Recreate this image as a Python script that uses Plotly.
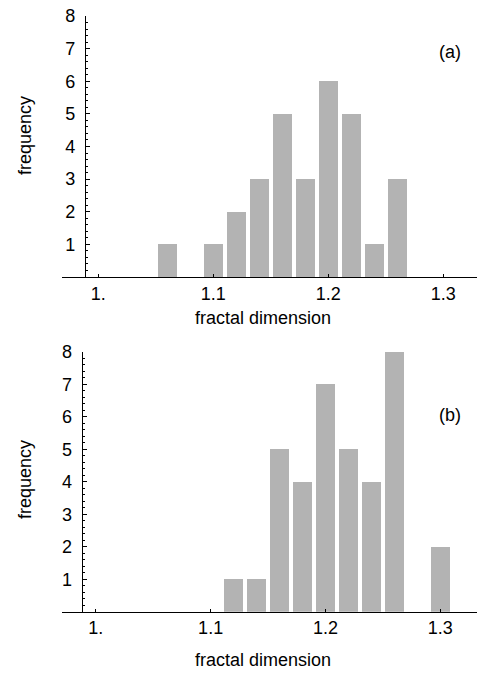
import plotly.graph_objects as go

# Data
bins_a = [1.06, 1.10, 1.12, 1.14, 1.16, 1.18, 1.20, 1.22, 1.24, 1.26]
freq_a = [1, 1, 2, 3, 5, 3, 6, 5, 1, 3]
bins_b = [1.12, 1.14, 1.16, 1.18, 1.20, 1.22, 1.24, 1.26, 1.30]
freq_b = [1, 1, 5, 4, 7, 5, 4, 8, 2]
x_tickvals = [1.0, 1.1, 1.2, 1.3]
x_ticktext = ["1.", "1.1", "1.2", "1.3"]
y_tickvals = [1, 2, 3, 4, 5, 6, 7, 8]
panel_labels = ["(a)", "(b)"]

W, H = 477, 675
ML = 62
FONT = "Liberation Sans, Arial, sans-serif"
FS = 18
BAR = "#b3b3b3"

xr_a = [0.9684, 1.3293]
xr_b = [0.9706, 1.3319]
yax_a = 0.9884
yax_b = 0.9878

dom_a = [1 - 277 / H, 1 - 16 / H]
dom_b = [1 - 611.7 / H, 1 - 352 / H]

fig = go.Figure()
fig.add_trace(go.Bar(x=bins_a, y=freq_a, width=0.016, marker=dict(color=BAR, line_width=0),
                     xaxis="x", yaxis="y", showlegend=False))
fig.add_trace(go.Bar(x=bins_b, y=freq_b, width=0.016, marker=dict(color=BAR, line_width=0),
                     xaxis="x2", yaxis="y2", showlegend=False))

def xax(rng, anchor):
    return dict(range=rng, domain=[0, 1], anchor=anchor, showgrid=False, zeroline=False,
                showline=True, linecolor="black", linewidth=1.2,
                ticks="inside", ticklen=3, tickcolor="black", tickwidth=1,
                tickvals=x_tickvals, ticktext=x_ticktext,
                tickfont=dict(family=FONT, size=FS, color="black"),
                ticklabelstandoff=0, automargin=False)

def yax(dom, pos):
    return dict(range=[0, 8], domain=dom, anchor="free", position=pos,
                showgrid=False, zeroline=False,
                showline=True, linecolor="black", linewidth=1.2,
                ticks="inside", ticklen=4, tickcolor="black", tickwidth=1,
                tickvals=y_tickvals,
                minor=dict(dtick=0.2, tick0=0, ticks="inside", ticklen=2, tickcolor="black"),
                tickfont=dict(family=FONT, size=FS, color="black"),
                ticklabelstandoff=6, automargin=False)

pos_a = (yax_a - xr_a[0]) / (xr_a[1] - xr_a[0])
pos_b = (yax_b - xr_b[0]) / (xr_b[1] - xr_b[0])

fig.update_layout(
    width=W, height=H,
    margin=dict(l=ML, r=0, t=0, b=0, autoexpand=False),
    paper_bgcolor="white", plot_bgcolor="rgba(0,0,0,0)",
    bargap=0,
    xaxis=xax(xr_a, "y"),
    yaxis=yax(dom_a, pos_a),
    xaxis2=xax(xr_b, "y2"),
    yaxis2=yax(dom_b, pos_b),
    font=dict(family=FONT, size=FS, color="black"),
)

def pyf(py):
    return 1 - py / H

def pxf(px):
    return (px - ML) / (W - ML)

ann = [
    dict(text="fractal dimension", x=pxf(263), y=pyf(318)),
    dict(text="fractal dimension", x=pxf(263), y=pyf(660)),
    dict(text="frequency", x=pxf(25), y=pyf(136), textangle=-90),
    dict(text="frequency", x=pxf(25), y=pyf(480), textangle=-90),
    dict(text=panel_labels[0], x=pxf(450), y=pyf(52)),
    dict(text=panel_labels[1], x=pxf(450), y=pyf(415)),
]
for a in ann:
    fig.add_annotation(xref="paper", yref="paper", showarrow=False,
                       xanchor="center", yanchor="middle",
                       font=dict(family=FONT, size=FS, color="black"), **a)

fig.write_html("out.html", config={"displayModeBar": False},
               post_script="document.body.style.margin='0';document.body.style.overflow='hidden';")
